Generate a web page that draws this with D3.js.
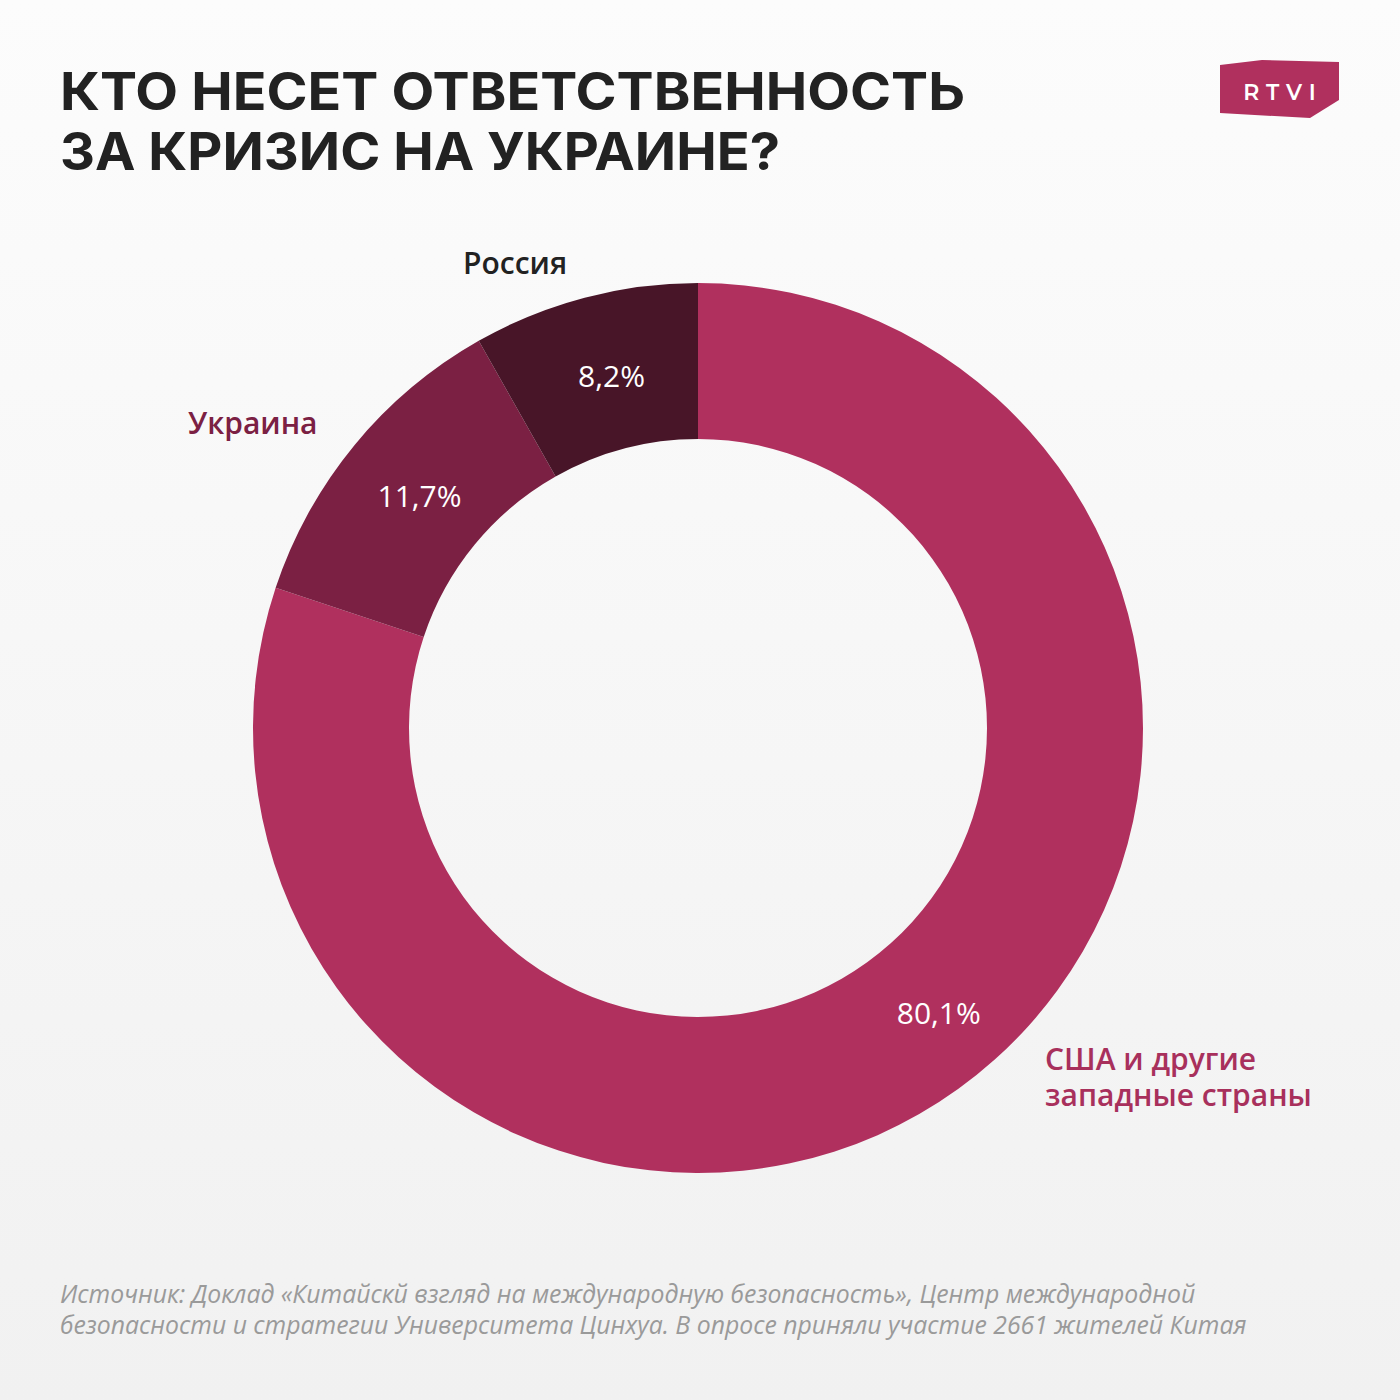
<!DOCTYPE html>
<html><head><meta charset="utf-8">
<script src="https://cdn.jsdelivr.net/npm/d3@7"></script>
<style>html,body{margin:0;padding:0;background:#f6f6f6}</style>
</head><body>
<script>
const categories = ["США и другие западные страны", "Украина", "Россия"];
const values = [80.1, 11.7, 8.2];
const valueLabels = ["80,1%", "11,7%", "8,2%"];
const colors = ["#B0305E", "#7B2043", "#481528"];
const labelColors = ["#A8305C", "#7B2043", "#222222"];
const titleLines = ["КТО НЕСЕТ ОТВЕТСТВЕННОСТЬ", "ЗА КРИЗИС НА УКРАИНЕ?"];
const sourceLines = ["Источник: Доклад «Китайскй взгляд на международную безопасность», Центр международной",
  "безопасности и стратегии Университета Цинхуа. В опросе приняли участие 2661 жителей Китая"];

const W = 1400, H = 1400;
const svg = d3.select("body").append("svg").attr("width", W).attr("height", H);
const defs = svg.append("defs");
const g0 = defs.append("linearGradient").attr("id","bg").attr("x1",0).attr("y1",0).attr("x2",0).attr("y2",1);
g0.append("stop").attr("offset","0%").attr("stop-color","#fcfcfc");
g0.append("stop").attr("offset","100%").attr("stop-color","#f1f1f1");
svg.append("rect").attr("width",W).attr("height",H).attr("fill","url(#bg)");

// title
svg.append("g").selectAll("text").data(titleLines).join("text")
  .attr("x", 60).attr("y", (d,i) => 110 + i*60)
  .attr("font-family", "Inter, 'Open Sans', sans-serif")
  .attr("font-weight", 700).attr("font-size", 52)
  .attr("fill", "#222")
  .attr("textLength", (d,i) => i === 0 ? 905 : 720)
  .attr("lengthAdjust", "spacingAndGlyphs")
  .text(d => d);

// logo
const logo = svg.append("g");
logo.append("polygon").attr("points","1220,65 1262,60 1339,62 1339,100 1310,118 1220,113").attr("fill","#B0305E");
logo.append("text").attr("x",1283).attr("y",100).attr("text-anchor","middle")
  .attr("font-family","Montserrat, Inter, sans-serif").attr("font-weight",600).attr("font-size",22)
  .attr("letter-spacing",7).attr("fill","#fff").text("RTVI");

// donut
const cx = 698, cy = 728, R = 445, r = 289;
const pie = d3.pie().sort(null).value(d => d)(values);
const arc = d3.arc().innerRadius(r).outerRadius(R);
const g = svg.append("g").attr("transform", `translate(${cx},${cy})`);
g.selectAll("path").data(pie).join("path").attr("d", arc).attr("fill", (d,i) => colors[i]);

const labelOffsets = [[26,-12],[5,2],[7,3]];
g.selectAll("text.v").data(pie).join("text").attr("class","v")
  .attr("transform", (d,i) => { const c = arc.centroid(d); return `translate(${c[0]+labelOffsets[i][0]},${c[1]+labelOffsets[i][1]})`; })
  .attr("text-anchor","middle").attr("dy","0.35em")
  .attr("font-family","'Open Sans', sans-serif").attr("font-weight",500).attr("font-size",30)
  .attr("fill","#fff").text((d,i) => valueLabels[i]);

// category labels
const catLabels = [
  {lines:["США и другие","западные страны"], x:1045, y:1070, anchor:"start"},
  {lines:["Украина"], x:188, y:434, anchor:"start"},
  {lines:["Россия"], x:463, y:274, anchor:"start"}
];
catLabels.forEach((c,i) => {
  const t = svg.append("text").attr("x", c.x).attr("y", c.y).attr("text-anchor", c.anchor)
    .attr("font-family","'Open Sans', sans-serif").attr("font-weight",600).attr("font-size",30)
    .attr("fill", labelColors[i]);
  c.lines.forEach((l,j) => t.append("tspan").attr("x", c.x).attr("dy", j === 0 ? 0 : 36).text(l));
});

// source
svg.append("g").selectAll("text").data(sourceLines).join("text")
  .attr("x", 60).attr("y", (d,i) => 1303 + i*31)
  .attr("font-family","'Open Sans', sans-serif").attr("font-style","italic").attr("font-size",24.8)
  .attr("fill","#9a9a9a").text(d => d);
</script>
</body></html>
